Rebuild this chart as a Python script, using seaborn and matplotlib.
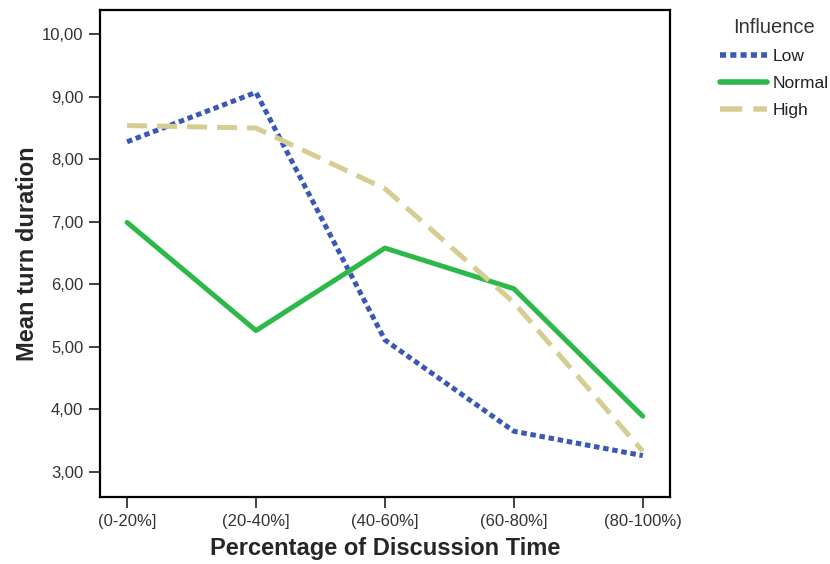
import matplotlib
matplotlib.use("Agg")
import matplotlib.pyplot as plt
import seaborn as sns
import pandas as pd
from matplotlib.ticker import FuncFormatter

periods = ["(0-20%]", "(20-40%]", "(40-60%]", "(60-80%]", "(80-100%)"]
low = [8.28, 9.07, 5.11, 3.65, 3.26]
normal = [6.99, 5.26, 6.58, 5.93, 3.89]
high = [8.54, 8.50, 7.53, 5.71, 3.33]

groups = ["Low", "Normal", "High"]
colors = {"Low": "#3a58b5", "Normal": "#2cb94a", "High": "#d6cd93"}
dashes = {"Low": (1.1, 0.75), "Normal": "", "High": (4, 2)}

df = pd.DataFrame({
    "period": periods * 3,
    "value": low + normal + high,
    "Influence": [g for g in groups for _ in periods],
})

sns.set_style("white")
plt.rcParams["font.family"] = ["Liberation Sans", "DejaVu Sans"]

fig = plt.figure(figsize=(8.3, 5.64), dpi=100)
ax = fig.add_axes([0.1205, 0.119, 0.6865, 0.8635])

sns.lineplot(data=df, x="period", y="value", hue="Influence", style="Influence",
             hue_order=groups, style_order=groups, palette=colors, dashes=dashes,
             linewidth=3.6, ax=ax)

ax.set_xlim(-0.21, 4.21)
ax.set_ylim(2.6, 10.39)
ax.set_yticks([3, 4, 5, 6, 7, 8, 9, 10])
ax.yaxis.set_major_formatter(FuncFormatter(lambda v, p: f"{v:.2f}".replace(".", ",")))

for s in ax.spines.values():
    s.set_color("black")
    s.set_linewidth(1.6)
ax.tick_params(axis="both", which="major", direction="out", length=8, width=1.3,
               color="#333333", labelsize=12, labelcolor="#333333", pad=4,
               left=True, bottom=True)

ax.set_xlabel("Percentage of Discussion Time", fontsize=17, fontweight="bold", labelpad=6)
ax.set_ylabel("Mean turn duration", fontsize=17, fontweight="bold", labelpad=2)

leg = ax.legend(loc="upper left", bbox_to_anchor=(1.07, 1.005), frameon=False,
                title="Influence", fontsize=12.5, title_fontsize=14.5,
                handlelength=2.7, handletextpad=0.3, labelspacing=0.68,
                borderaxespad=0.2)
for line in leg.get_lines():
    line.set_linewidth(4)
leg.get_title().set_color("#333333")
for t in leg.get_texts():
    t.set_color("#222222")

fig.savefig("out.png", dpi=100)
